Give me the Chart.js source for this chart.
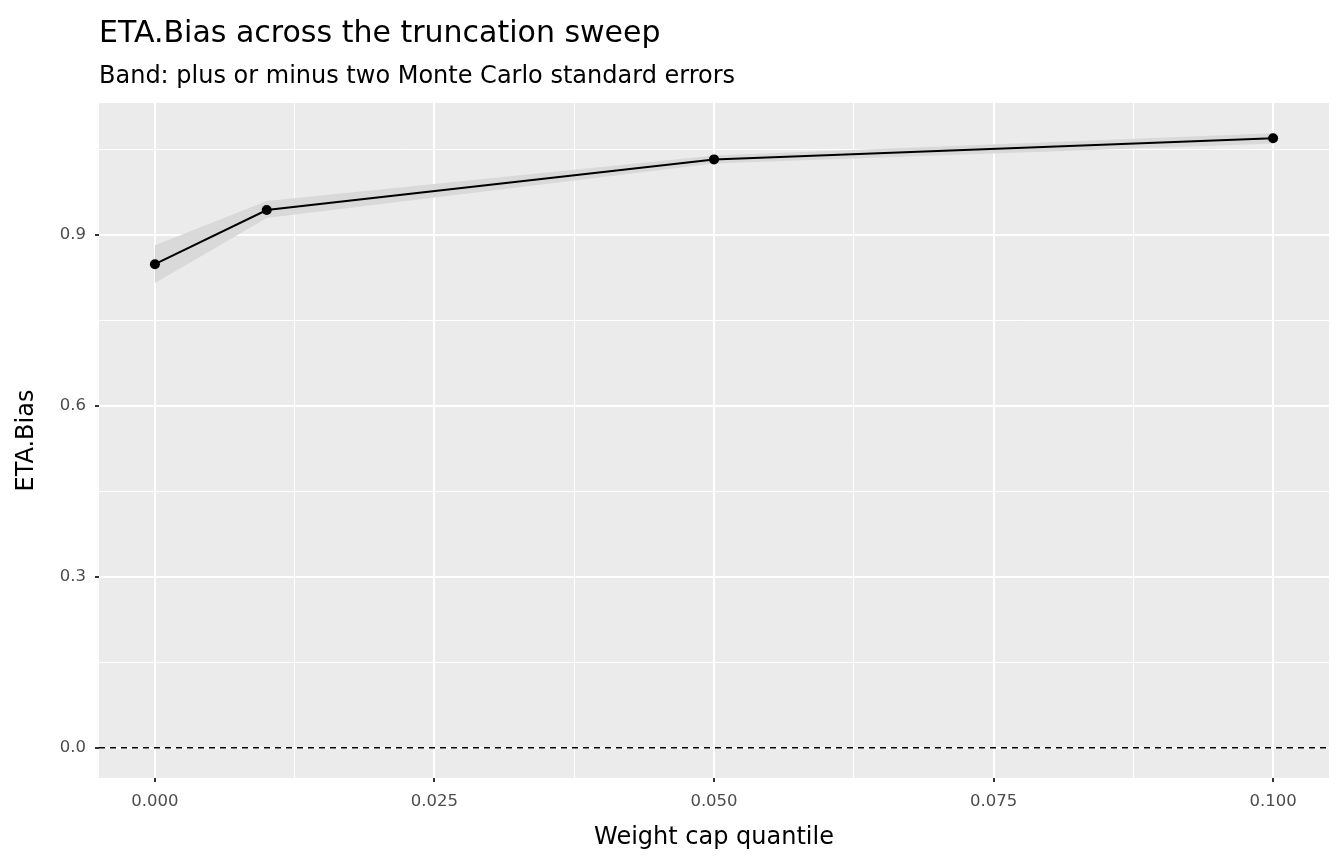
<!DOCTYPE html>
<html><head><meta charset="utf-8">
<script src="https://cdn.jsdelivr.net/npm/chart.js@4/dist/chart.umd.min.js"></script>
<style>body{margin:0;background:#fff;}canvas{display:block;}</style></head><body>
<canvas id="c" width="1344" height="864"></canvas>
<script>
const capQuantile=[0,0.01,0.05,0.1];
const etaBias=[0.849,0.944,1.033,1.070];
const bandLow=[0.816,0.930,1.026,1.061];
const bandHigh=[0.882,0.960,1.040,1.079];
const xMajor=[0,0.025,0.05,0.075,0.1];
const xMinor=[0.0125,0.0375,0.0625,0.0875];
const yMajor=[0,0.3,0.6,0.9];
const yMinor=[0.15,0.45,0.75,1.05];
const titleText='ETA.Bias across the truncation sweep';
const subtitleText='Band: plus or minus two Monte Carlo standard errors';
const F='"DejaVu Sans"';
const pts=a=>capQuantile.map((x,i)=>({x,y:a[i]}));
const bg={id:'bg',beforeDraw(c){const a=c.chartArea,g=c.ctx;g.save();g.fillStyle='#EBEBEB';g.fillRect(a.left,a.top,a.right-a.left,a.bottom-a.top);g.restore();},
beforeDatasetsDraw(c){const a=c.chartArea,g=c.ctx,y=c.scales.y.getPixelForValue(0);g.save();g.strokeStyle='#000';g.lineWidth=1.5;g.setLineDash([6,5]);g.beginPath();g.moveTo(a.left,y);g.lineTo(a.right,y);g.stroke();g.restore();},
afterDraw(c){const g=c.ctx;g.save();g.fillStyle='#000';g.textBaseline='alphabetic';g.textAlign='left';
g.font='30px '+F;g.fillText(titleText,99,42);g.font='24px '+F;g.fillText(subtitleText,99,83);g.restore();}};
const mk=(maj,mn)=>function(s){s.ticks=[...maj,...mn].sort((a,b)=>a-b).map(v=>({value:v}));};
new Chart(document.getElementById('c'),{type:'line',
data:{datasets:[
{data:pts(bandLow),borderWidth:0,pointRadius:0,fill:false,order:2},
{data:pts(bandHigh),borderWidth:0,pointRadius:0,fill:'-1',backgroundColor:'#D9D9D9',order:1},
{data:pts(etaBias),borderColor:'#000',borderWidth:2,pointRadius:5,pointBackgroundColor:'#000',pointBorderWidth:0,fill:false,order:0}]},
options:{responsive:false,animation:false,layout:{padding:{top:103,right:15}},
plugins:{legend:{display:false},tooltip:{enabled:false}},
scales:{
x:{type:'linear',min:-0.005,max:0.105,afterBuildTicks:mk(xMajor,xMinor),
afterFit(s){s.height=86;},border:{display:false},
grid:{color:'#fff',lineWidth:c=>xMajor.includes(c.tick.value)?2:1,tickLength:4,tickColor:c=>xMajor.includes(c.tick.value)?'#333':'rgba(0,0,0,0)'},
ticks:{color:'#4D4D4D',font:{size:16.5,family:'DejaVu Sans'},padding:10,autoSkip:false,maxRotation:0,callback:v=>xMajor.includes(v)?v.toFixed(3):''},
title:{display:true,text:'Weight cap quantile',color:'#000',font:{size:24,family:'DejaVu Sans'},padding:{top:0,bottom:12}}},
y:{min:-0.053,max:1.132,afterBuildTicks:mk(yMajor,yMinor),
afterFit(s){s.width=99;},border:{display:false},
grid:{color:'#fff',lineWidth:c=>yMajor.includes(c.tick.value)?2:1,tickLength:4,tickColor:c=>yMajor.includes(c.tick.value)?'#333':'rgba(0,0,0,0)'},
ticks:{color:'#4D4D4D',font:{size:16.5,family:'DejaVu Sans'},padding:9,autoSkip:false,callback:v=>yMajor.includes(v)?v.toFixed(1):''},
title:{display:true,text:'ETA.Bias',color:'#000',font:{size:24,family:'DejaVu Sans'},padding:{top:12}}}}},
plugins:[bg]});
</script></body></html>
